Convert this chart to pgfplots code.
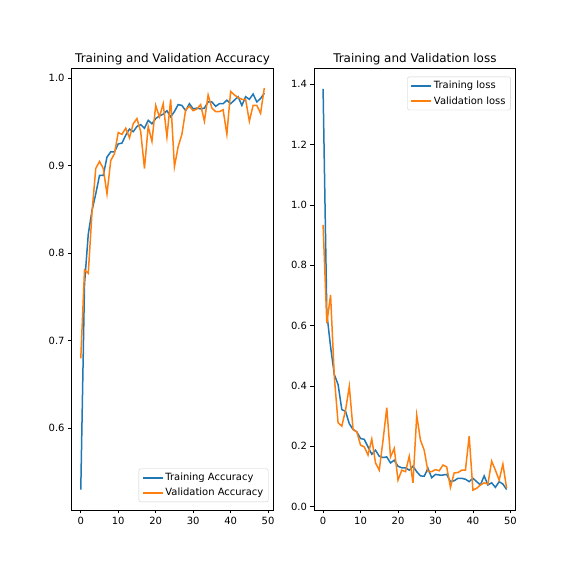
\documentclass[border=0pt]{standalone}
\usepackage{fontspec}
\setmainfont{DejaVu Sans}
\usepackage{pgfplots}
\pgfplotsset{compat=1.18}
\definecolor{C0}{HTML}{1F77B4}
\definecolor{C1}{HTML}{FF7F0E}
\pgfplotsset{
  mplstyle/.style={
    scale only axis,
    width=201.9bp, height=441.2bp,
    anchor=south west,
    axis line style={black, line width=0.8bp},
    tick align=outside,
    major tick length=3.5bp,
    every tick/.style={black, line width=0.8bp},
    xtick pos=bottom, ytick pos=left,
    xmin=-2.45, xmax=51.45,
    xtick={0,10,20,30,40,50},
    tick label style={font=\fontsize{10}{12}\selectfont},
    /pgf/number format/assume math mode=true,
    title style={font=\fontsize{12}{14}\selectfont, yshift=-6bp},
    legend style={font=\fontsize{10}{12}\selectfont, draw={rgb,255:red,204;green,204;blue,204}, rounded corners=2bp, inner xsep=3bp, inner ysep=2.5bp, row sep=2bp, fill=white, fill opacity=0.8, text opacity=1, cells={anchor=west}},
    legend image code/.code={\draw[#1, line width=1.5bp] (0bp,0bp) -- (20bp,0bp);},
    every axis plot/.append style={line width=1.5bp, no markers},
  }
}
\begin{document}
\begin{tikzpicture}[x=1bp,y=1bp]
\useasboundingbox (0,0) rectangle (573,573);
\begin{axis}[mplstyle, at={(71.6bp,63bp)},
  ymin=0.5066, ymax=1.0109,
  ytick={0.6,0.7,0.8,0.9,1.0},
  yticklabel style={/pgf/number format/fixed, /pgf/number format/fixed zerofill, /pgf/number format/precision=1},
  title={Training and Validation Accuracy},
  legend style={at={(0.975,0.018)}, anchor=south east},
]
\addplot[C0] coordinates {
(0,0.530)(1,0.765)(2,0.822)(3,0.849)(4,0.868)(5,0.889)(6,0.889)(7,0.910)(8,0.916)(9,0.916)
(10,0.925)(11,0.926)(12,0.935)(13,0.942)(14,0.939)(15,0.945)(16,0.947)(17,0.943)(18,0.952)(19,0.948)
(20,0.954)(21,0.957)(22,0.959)(23,0.963)(24,0.956)(25,0.962)(26,0.970)(27,0.969)(28,0.963)(29,0.971)
(30,0.965)(31,0.966)(32,0.965)(33,0.966)(34,0.973)(35,0.973)(36,0.968)(37,0.971)(38,0.971)(39,0.975)
(40,0.971)(41,0.975)(42,0.979)(43,0.969)(44,0.979)(45,0.976)(46,0.982)(47,0.973)(48,0.977)(49,0.983)
};
\addlegendentry{Training Accuracy}
\addplot[C1] coordinates {
(0,0.680)(1,0.781)(2,0.777)(3,0.847)(4,0.897)(5,0.905)(6,0.897)(7,0.868)(8,0.906)(9,0.914)
(10,0.938)(11,0.936)(12,0.943)(13,0.932)(14,0.948)(15,0.954)(16,0.939)(17,0.897)(18,0.945)(19,0.928)
(20,0.969)(21,0.956)(22,0.971)(23,0.933)(24,0.976)(25,0.899)(26,0.922)(27,0.936)(28,0.964)(29,0.968)
(30,0.963)(31,0.965)(32,0.970)(33,0.951)(34,0.981)(35,0.966)(36,0.962)(37,0.962)(38,0.964)(39,0.936)
(40,0.985)(41,0.981)(42,0.978)(43,0.976)(44,0.976)(45,0.951)(46,0.969)(47,0.969)(48,0.960)(49,0.989)
};
\addlegendentry{Validation Accuracy}
\end{axis}
\begin{axis}[mplstyle, at={(313.9bp,63bp)},
  ymin=-0.011, ymax=1.4514,
  ytick={0,0.2,0.4,0.6,0.8,1.0,1.2,1.4},
  yticklabel style={/pgf/number format/fixed, /pgf/number format/fixed zerofill, /pgf/number format/precision=1},
  title={Training and Validation loss},
  legend style={at={(0.975,0.982)}, anchor=north east},
]
\addplot[C0] coordinates {
(0,1.385)(1,0.640)(2,0.530)(3,0.438)(4,0.405)(5,0.322)(6,0.316)(7,0.275)(8,0.256)(9,0.248)
(10,0.226)(11,0.223)(12,0.198)(13,0.174)(14,0.187)(15,0.167)(16,0.163)(17,0.165)(18,0.145)(19,0.154)
(20,0.134)(21,0.129)(22,0.129)(23,0.121)(24,0.134)(25,0.116)(26,0.102)(27,0.101)(28,0.127)(29,0.096)
(30,0.107)(31,0.105)(32,0.105)(33,0.107)(34,0.083)(35,0.086)(36,0.094)(37,0.094)(38,0.091)(39,0.083)
(40,0.094)(41,0.083)(42,0.072)(43,0.102)(44,0.072)(45,0.079)(46,0.064)(47,0.083)(48,0.075)(49,0.057)
};
\addlegendentry{Training loss}
\addplot[C1] coordinates {
(0,0.934)(1,0.608)(2,0.702)(3,0.430)(4,0.278)(5,0.267)(6,0.320)(7,0.399)(8,0.256)(9,0.248)
(10,0.204)(11,0.198)(12,0.171)(13,0.224)(14,0.145)(15,0.121)(16,0.220)(17,0.328)(18,0.165)(19,0.193)
(20,0.088)(21,0.121)(22,0.116)(23,0.167)(24,0.079)(25,0.303)(26,0.220)(27,0.187)(28,0.116)(29,0.116)
(30,0.123)(31,0.119)(32,0.138)(33,0.132)(34,0.064)(35,0.112)(36,0.113)(37,0.121)(38,0.121)(39,0.234)
(40,0.055)(41,0.061)(42,0.072)(43,0.079)(44,0.075)(45,0.151)(46,0.121)(47,0.088)(48,0.141)(49,0.061)
};
\addlegendentry{Validation loss}
\end{axis}
\end{tikzpicture}
\end{document}
